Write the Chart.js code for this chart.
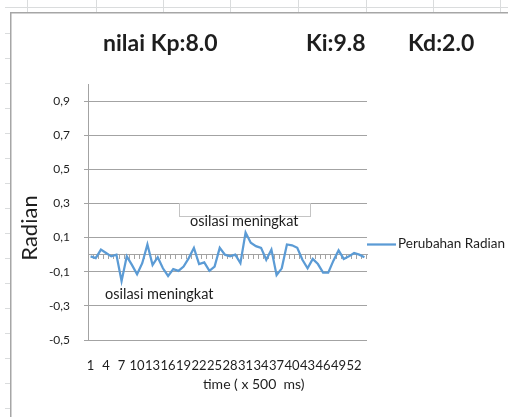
<!DOCTYPE html>
<html>
<head>
<meta charset="utf-8">
<script src="https://cdn.jsdelivr.net/npm/chart.js@4.4.0/dist/chart.umd.min.js"></script>
<style>
  html, body { margin: 0; padding: 0; background: #fff; }
  canvas { display: block; }
</style>
</head>
<body>
<canvas id="myChart" width="508" height="417"></canvas>
<script>
// time steps (x 500 ms)
const timeSteps = [
  1, 2, 3, 4, 5, 6, 7, 8, 9, 10, 11, 12, 13, 14, 15, 16, 17, 18,
  19, 20, 21, 22, 23, 24, 25, 26, 27, 28, 29, 30, 31, 32, 33, 34, 35, 36,
  37, 38, 39, 40, 41, 42, 43, 44, 45, 46, 47, 48, 49, 50, 51, 52, 53, 54
];

// Perubahan Radian
const radianValues = [
  -0.01, -0.02, 0.03, 0.01, -0.01, 0.0, -0.155, -0.01, -0.06, -0.115,
  -0.05, 0.06, -0.06, -0.015, -0.08, -0.125, -0.085, -0.095, -0.07, -0.02,
  0.04, -0.055, -0.045, -0.095, -0.07, 0.04, 0.0, -0.01, 0.0, -0.05,
  0.13, 0.07, 0.05, 0.04, -0.03, 0.03, -0.12, -0.08, 0.06, 0.055,
  0.04, -0.03, -0.08, -0.025, -0.055, -0.105, -0.105, -0.035, 0.025, -0.025,
  -0.01, 0.01, 0.0, -0.015
];

const yTickValues = [-0.5, -0.3, -0.1, 0.1, 0.3, 0.5, 0.7, 0.9];
const titleParts = ["nilai Kp:8.0", "Ki:9.8", "Kd:2.0"];
const noteText = "osilasi meningkat";

const gridGray = "#a3a3a3";
const lineBlue = "#5b9bd5";
const textColor = "#1e1e1e";

Chart.defaults.font.family = "Lato, 'Open Sans', sans-serif";

// spreadsheet behind the chart, the chart frame and the free texts
const sheetPlugin = {
  id: "sheet",
  beforeDraw(chart) {
    const ctx = chart.ctx;
    ctx.save();
    ctx.fillStyle = "#fff";
    ctx.fillRect(0, 0, chart.width, chart.height);

    // cell lines peeking out around the chart
    ctx.strokeStyle = "#dadcdd";
    ctx.lineWidth = 1;
    ctx.beginPath();
    ctx.moveTo(5, 7.5);
    ctx.lineTo(chart.width, 7.5);
    [27, 96, 163, 230, 298, 366, 433, 500].forEach((x) => {
      ctx.moveTo(x + 0.5, 0);
      ctx.lineTo(x + 0.5, 12);
    });
    for (let y = 33; y < chart.height; y += 25) {
      ctx.moveTo(5, y + 0.5);
      ctx.lineTo(10, y + 0.5);
    }
    ctx.stroke();

    // chart frame
    ctx.strokeStyle = "#a6a6a6";
    ctx.lineWidth = 1.5;
    ctx.beginPath();
    ctx.moveTo(10.75, chart.height);
    ctx.lineTo(10.75, 12.75);
    ctx.lineTo(chart.width, 12.75);
    ctx.stroke();
    ctx.restore();
  },
  afterDraw(chart) {
    const ctx = chart.ctx;
    ctx.save();
    ctx.fillStyle = textColor;
    ctx.textBaseline = "alphabetic";

    // title
    ctx.font = "bold 23px Lato";
    ctx.textAlign = "left";
    ctx.fillText(titleParts[0], 103, 51);
    ctx.fillText(titleParts[1], 306, 51);
    ctx.fillText(titleParts[2], 408, 51);

    // empty text box over the 0,3 line
    ctx.fillStyle = "#fff";
    ctx.fillRect(179.5, 203.5, 131, 13);
    ctx.strokeStyle = "#c4c4c4";
    ctx.lineWidth = 1;
    ctx.strokeRect(179.5, 203.5, 131, 13);

    // notes
    ctx.fillStyle = textColor;
    ctx.font = "14.5px Lato";
    ctx.fillText(noteText, 190, 226);
    ctx.fillText(noteText, 105, 299);

    // axis titles
    ctx.font = "14px Lato";
    ctx.fillText("time ( x 500  ms)", 203, 389);
    ctx.save();
    ctx.translate(30, 228);
    ctx.rotate(-Math.PI / 2);
    ctx.textAlign = "center";
    ctx.textBaseline = "middle";
    ctx.font = "22px Lato";
    ctx.fillText("Radian", 0, 0);
    ctx.restore();

    // legend
    const ds = chart.data.datasets[0];
    ctx.strokeStyle = ds.borderColor;
    ctx.lineWidth = 2.25;
    ctx.beginPath();
    ctx.moveTo(367, 244.5);
    ctx.lineTo(396, 244.5);
    ctx.stroke();
    ctx.font = "13.5px Lato";
    ctx.textBaseline = "middle";
    ctx.fillText(ds.label, 398, 244);
    ctx.restore();
  }
};

const config = {
  type: "line",
  data: {
    labels: timeSteps,
    datasets: [
      {
        label: "Perubahan Radian",
        data: radianValues,
        borderColor: lineBlue,
        borderWidth: 2.25,
        pointRadius: 0,
        tension: 0,
        xAxisID: "x",
        yAxisID: "y",
      },
    ],
  },
  options: {
    responsive: false,
    animation: false,
    devicePixelRatio: 1,
    layout: { padding: { left: 10, top: 84, right: 141, bottom: 0 } },
    plugins: {
      legend: { display: false },
      tooltip: { enabled: false },
    },
    scales: {
      x: {
        type: "category",
        position: "bottom",
        offset: true,
        grid: { display: false, drawTicks: false },
        border: { display: false },
        ticks: {
          autoSkip: false,
          maxRotation: 0,
          padding: 18,
          color: textColor,
          font: { size: 13 },
          callback: function (value, index) {
            return index % 3 === 0 ? this.getLabelForValue(value) : "";
          },
        },
        afterFit: (scale) => {
          scale.height = 77;
        },
      },
      // axis line with tick marks crossing at 0
      x2: {
        type: "category",
        position: { y: 0 },
        offset: true,
        grid: { drawOnChartArea: false, offset: true, tickLength: 4, color: gridGray },
        border: { display: true, color: gridGray },
        ticks: { display: false },
      },
      y: {
        min: -0.5,
        max: 1.0,
        grid: { color: gridGray, tickLength: 4 },
        border: { color: gridGray },
        ticks: {
          padding: 14,
          color: textColor,
          font: { size: 12 },
          callback: (v) => v.toFixed(1).replace(".", ","),
        },
        afterBuildTicks: (scale) => {
          scale.ticks = yTickValues.map((v) => ({ value: v }));
        },
        afterFit: (scale) => {
          scale.width = 78;
        },
      },
    },
  },
  plugins: [sheetPlugin],
};

const myChart = new Chart(document.getElementById("myChart"), config);
</script>
</body>
</html>
